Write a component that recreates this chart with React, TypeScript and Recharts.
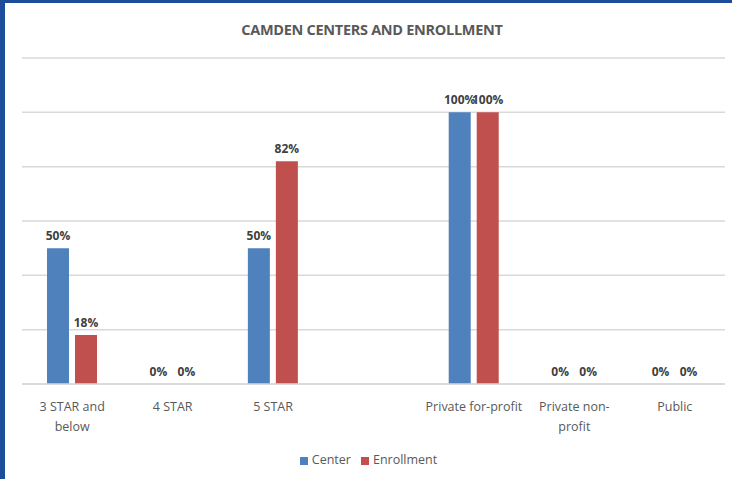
import React from "react";
import { BarChart, Bar, XAxis, YAxis, CartesianGrid, Legend, LabelList } from "recharts";

const categories = ["3 STAR and below", "4 STAR", "5 STAR", "", "Private for-profit", "Private non-profit", "Public"];
const tickLines: string[][] = [
  ["3 STAR and", "below"],
  ["4 STAR"],
  ["5 STAR"],
  [],
  ["Private for-profit"],
  ["Private non-", "profit"],
  ["Public"],
];
const centerValues: (number | null)[] = [50, 0, 50, null, 100, 0, 0];
const enrollmentValues: (number | null)[] = [18, 0, 82, null, 100, 0, 0];
const yTicks = [0, 20, 40, 60, 80, 100, 120];

const BLUE = "#4f81bd";
const RED = "#c0504d";
const FONT = "'Open Sans', 'Noto Sans', sans-serif";

const data = categories.map((name, i) => ({
  name,
  center: centerValues[i],
  enrollment: enrollmentValues[i],
}));

function CategoryTick(props: any) {
  const { x, y, index } = props;
  const lines = tickLines[index] ?? [];
  return (
    <text x={x} y={y} textAnchor="middle" fill="#595959" fontSize={12.5} fontFamily={FONT}>
      {lines.map((line, i) => (
        <tspan key={i} x={x} dy={i === 0 ? 19 : 20}>
          {line}
        </tspan>
      ))}
    </text>
  );
}

const pct = (v: any) => (v === null || v === undefined ? "" : `${v}%`);

export default function App() {
  return (
    <div
      style={{
        position: "fixed",
        left: 0,
        top: 0,
        width: 732,
        height: 479,
        background: "#fff",
        boxSizing: "border-box",
        borderLeft: "5px solid #1c4c9a",
        borderTop: "3px solid #1c4c9a",
        fontFamily: FONT,
      }}
    >
      <div
        style={{
          position: "absolute",
          left: 1,
          top: 17,
          width: 732,
          textAlign: "center",
          fontSize: 14.5,
          fontWeight: 700,
          color: "#595959",
          letterSpacing: -0.3,
        }}
      >
        CAMDEN CENTERS AND ENROLLMENT
      </div>
      <div style={{ position: "absolute", left: -5, top: -3 }}>
        <BarChart
          width={732}
          height={479}
          data={data}
          margin={{ top: 58, right: 7, bottom: 10, left: 22 }}
          barSize={22}
          barGap={6}
        >
          <CartesianGrid horizontal vertical={false} stroke="#d9d9d9" strokeWidth={1.5} />
          <XAxis
            dataKey="name"
            interval={0}
            tick={<CategoryTick />}
            tickLine={false}
            axisLine={{ stroke: "#d9d9d9", strokeWidth: 1.5 }}
            height={67}
          />
          <YAxis hide domain={[0, 120]} ticks={yTicks} />
          <Legend
            verticalAlign="bottom"
            iconType="square"
            iconSize={8}
            height={18}
            wrapperStyle={{ fontSize: 12.5, color: "#595959", fontFamily: FONT }}
            formatter={(value) => <span style={{ color: "#595959" }}>{value}</span>}
          />
          <Bar dataKey="center" name="Center" fill={BLUE} minPointSize={0.01} isAnimationActive={false}>
            <LabelList
              dataKey="center"
              position="top"
              formatter={pct}
              fill="#404040"
              fontSize={12}
              fontWeight={700}
              fontFamily={FONT}
              offset={8}
            />
          </Bar>
          <Bar dataKey="enrollment" name="Enrollment" fill={RED} minPointSize={0.01} isAnimationActive={false}>
            <LabelList
              dataKey="enrollment"
              position="top"
              formatter={pct}
              fill="#404040"
              fontSize={12}
              fontWeight={700}
              fontFamily={FONT}
              offset={8}
            />
          </Bar>
        </BarChart>
      </div>
    </div>
  );
}
